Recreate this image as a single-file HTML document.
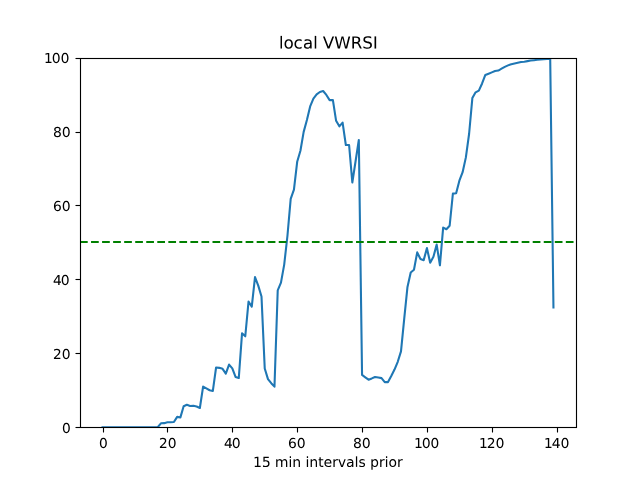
<!DOCTYPE html>
<html><head><meta charset="utf-8"><style>
html,body{margin:0;padding:0;background:#fff;width:640px;height:480px;overflow:hidden;font-family:"Liberation Sans",sans-serif}
svg{display:block}
</style></head><body>
<svg width="640" height="480" viewBox="0 0 640 480">
<rect width="640" height="480" fill="#fff"/>
<clipPath id="c"><rect x="80" y="58" width="496" height="369"/></clipPath>
<polyline clip-path="url(#c)" points="102.545,427.200 105.789,427.200 109.033,427.200 112.277,427.200 115.521,427.200 118.765,427.200 122.009,427.200 125.253,427.200 128.497,427.200 131.741,427.200 134.985,427.200 138.229,427.200 141.473,427.200 144.717,427.200 147.961,427.200 151.205,427.200 154.449,427.200 157.693,427.200 160.937,423.319 164.181,423.134 167.424,422.210 170.668,422.210 173.912,422.026 177.156,416.851 180.400,417.406 183.644,406.244 186.888,404.765 190.132,405.985 193.376,405.763 196.620,406.502 199.864,407.981 203.108,386.544 206.352,388.392 209.596,390.240 212.840,390.979 216.084,367.510 219.328,367.842 222.572,368.803 225.816,373.608 229.060,364.553 232.303,368.434 235.547,376.934 238.791,378.043 242.035,333.322 245.279,336.278 248.523,301.536 251.767,306.710 255.011,277.142 258.255,285.643 261.499,296.546 264.743,368.434 267.987,379.152 271.231,383.218 274.475,386.655 277.719,290.448 280.963,282.686 284.207,264.576 287.451,235.747 290.695,198.787 293.939,189.547 297.182,161.827 300.426,150.739 303.670,131.890 306.914,120.062 310.158,106.387 313.402,98.626 316.646,94.375 319.890,91.973 323.134,91.012 326.378,94.930 329.622,100.104 332.866,99.919 336.110,120.802 339.354,126.346 342.598,122.650 345.842,145.010 349.086,145.010 352.330,182.525 355.574,161.236 358.818,140.021 362.061,374.902 365.305,377.304 368.549,379.706 371.793,378.413 375.037,376.934 378.281,377.489 381.525,378.117 384.769,382.109 388.013,382.109 391.257,376.010 394.501,369.542 397.745,361.781 400.989,351.432 404.233,318.538 407.477,286.900 410.721,272.485 413.965,269.750 417.209,252.379 420.453,259.032 423.697,260.141 426.940,248.129 430.184,262.728 433.428,256.814 436.672,244.618 439.916,265.315 443.160,227.616 446.404,229.279 449.648,225.768 452.892,193.613 456.136,193.243 459.380,180.677 462.624,172.176 465.868,157.392 469.112,133.738 472.356,98.108 475.600,92.342 478.844,90.605 482.088,83.472 485.332,74.971 488.576,73.678 491.819,72.384 495.063,71.090 498.307,70.536 501.551,68.688 504.795,66.840 508.039,65.362 511.283,64.253 514.527,63.514 517.771,62.774 521.015,62.035 524.259,61.666 527.503,61.111 530.747,60.557 533.991,60.187 537.235,59.818 540.479,59.448 543.723,59.263 546.967,59.078 550.211,59.078 553.455,307.450" fill="none" stroke="#1f77b4" stroke-width="2.0833" stroke-linejoin="round" stroke-linecap="square"/>
<line clip-path="url(#c)" x1="80" y1="242.00" x2="576" y2="242.00" stroke="#008000" stroke-width="2.0833" stroke-dasharray="7.7083,3.3333"/>
<path d="M79.944,58.000H577.056V59.000H79.944ZM79.944,427.000H577.056V428.000H79.944ZM79.944,57.944H81.056V428.056H79.944ZM575.944,57.944H577.056V428.056H575.944ZM102.944,427.500H104.056V432.500H102.944ZM166.944,427.500H168.056V432.500H166.944ZM231.944,427.500H233.056V432.500H231.944ZM296.944,427.500H298.056V432.500H296.944ZM361.944,427.500H363.056V432.500H361.944ZM426.944,427.500H428.056V432.500H426.944ZM491.944,427.500H493.056V432.500H491.944ZM556.944,427.500H558.056V432.500H556.944ZM75.500,427.000H80.500V428.000H75.500ZM75.500,353.000H80.500V354.000H75.500ZM75.500,279.000H80.500V280.000H75.500ZM75.500,205.000H80.500V206.000H75.500ZM75.500,132.000H80.500V133.000H75.500ZM75.500,58.000H80.500V59.000H75.500Z" fill="#000"/>
<path d="M79.944,57.000H577.056V58.000H79.944ZM79.944,59.000H577.056V60.000H79.944ZM79.944,426.000H577.056V427.000H79.944ZM79.944,428.000H577.056V429.000H79.944ZM75.500,426.000H79.944V427.000H75.500ZM75.500,428.000H79.944V429.000H75.500ZM75.500,352.000H79.944V353.000H75.500ZM75.500,354.000H79.944V355.000H75.500ZM75.500,278.000H79.944V279.000H75.500ZM75.500,280.000H79.944V281.000H75.500ZM75.500,204.000H79.944V205.000H75.500ZM75.500,206.000H79.944V207.000H75.500ZM75.500,131.000H79.944V132.000H75.500ZM75.500,133.000H79.944V134.000H75.500ZM75.500,57.000H79.944V58.000H75.500ZM75.500,59.000H79.944V60.000H75.500Z" fill="#000" fill-opacity="0.0556" shape-rendering="crispEdges"/>
<g transform="scale(1.388889)" fill="#000">
<g transform="translate(0.5868 322.5600) scale(1 0.98700) translate(0 -322.1824)"><g id="text_1">
<g transform="translate(70.651477 322.182437) scale(0.1 -0.1)">
<defs>
<path id="DejaVuSans-30" d="M 2034 4250 
Q 1547 4250 1301 3770 
Q 1056 3291 1056 2328 
Q 1056 1369 1301 889 
Q 1547 409 2034 409 
Q 2525 409 2770 889 
Q 3016 1369 3016 2328 
Q 3016 3291 2770 3770 
Q 2525 4250 2034 4250 
z
M 2034 4750 
Q 2819 4750 3233 4129 
Q 3647 3509 3647 2328 
Q 3647 1150 3233 529 
Q 2819 -91 2034 -91 
Q 1250 -91 836 529 
Q 422 1150 422 2328 
Q 422 3509 836 4129 
Q 1250 4750 2034 4750 
z
" transform="scale(0.015625)"/>
</defs>
<use href="#DejaVuSans-30" transform="translate(0.0000 0)"/>
</g>
</g></g>
<g transform="translate(0.2230 322.5600) scale(1 0.98700) translate(0 -322.1824)"><g id="text_2">
<g transform="translate(114.183112 322.182437) scale(0.1 -0.1)">
<defs>
<path id="DejaVuSans-32" d="M 1228 531 
L 3431 531 
L 3431 0 
L 469 0 
L 469 531 
Q 828 903 1448 1529 
Q 2069 2156 2228 2338 
Q 2531 2678 2651 2914 
Q 2772 3150 2772 3378 
Q 2772 3750 2511 3984 
Q 2250 4219 1831 4219 
Q 1534 4219 1204 4116 
Q 875 4013 500 3803 
L 500 4441 
Q 881 4594 1212 4672 
Q 1544 4750 1819 4750 
Q 2544 4750 2975 4387 
Q 3406 4025 3406 3419 
Q 3406 3131 3298 2873 
Q 3191 2616 2906 2266 
Q 2828 2175 2409 1742 
Q 1991 1309 1228 531 
z
" transform="scale(0.015625)"/>
</defs>
<use href="#DejaVuSans-32" transform="translate(0.0000 0)"/>
<use href="#DejaVuSans-30" transform="translate(63.6230 0)"/>
</g>
</g></g>
<g transform="translate(-0.3739 322.5600) scale(1 0.98700) translate(0 -322.1824)"><g id="text_3">
<g transform="translate(160.895996 322.182437) scale(0.1 -0.1)">
<defs>
<path id="DejaVuSans-34" d="M 2419 4116 
L 825 1625 
L 2419 1625 
L 2419 4116 
z
M 2253 4666 
L 3047 4666 
L 3047 1625 
L 3713 1625 
L 3713 1100 
L 3047 1100 
L 3047 0 
L 2419 0 
L 2419 1100 
L 313 1100 
L 313 1709 
L 2253 4666 
z
" transform="scale(0.015625)"/>
</defs>
<use href="#DejaVuSans-34" transform="translate(7.2000 0)"/>
<use href="#DejaVuSans-30" transform="translate(63.6230 0)"/>
</g>
</g></g>
<g transform="translate(-0.2765 322.5600) scale(1 0.98700) translate(0 -322.1824)"><g id="text_4">
<g transform="translate(207.60888 322.182437) scale(0.1 -0.1)">
<defs>
<path id="DejaVuSans-36" d="M 2113 2584 
Q 1688 2584 1439 2293 
Q 1191 2003 1191 1497 
Q 1191 994 1439 701 
Q 1688 409 2113 409 
Q 2538 409 2786 701 
Q 3034 994 3034 1497 
Q 3034 2003 2786 2293 
Q 2538 2584 2113 2584 
z
M 3366 4563 
L 3366 3988 
Q 3128 4100 2886 4159 
Q 2644 4219 2406 4219 
Q 1781 4219 1451 3797 
Q 1122 3375 1075 2522 
Q 1259 2794 1537 2939 
Q 1816 3084 2150 3084 
Q 2853 3084 3261 2657 
Q 3669 2231 3669 1497 
Q 3669 778 3244 343 
Q 2819 -91 2113 -91 
Q 1303 -91 875 529 
Q 447 1150 447 2328 
Q 447 3434 972 4092 
Q 1497 4750 2381 4750 
Q 2619 4750 2861 4703 
Q 3103 4656 3366 4563 
z
" transform="scale(0.015625)"/>
</defs>
<use href="#DejaVuSans-36" transform="translate(0.0000 0)"/>
<use href="#DejaVuSans-30" transform="translate(63.6230 0)"/>
</g>
</g></g>
<g transform="translate(-0.1539 322.5600) scale(1 0.98700) translate(0 -322.1824)"><g id="text_5">
<g transform="translate(254.321764 322.182437) scale(0.1 -0.1)">
<defs>
<path id="DejaVuSans-38" d="M 2034 2216 
Q 1584 2216 1326 1975 
Q 1069 1734 1069 1313 
Q 1069 891 1326 650 
Q 1584 409 2034 409 
Q 2484 409 2743 651 
Q 3003 894 3003 1313 
Q 3003 1734 2745 1975 
Q 2488 2216 2034 2216 
z
M 1403 2484 
Q 997 2584 770 2862 
Q 544 3141 544 3541 
Q 544 4100 942 4425 
Q 1341 4750 2034 4750 
Q 2731 4750 3128 4425 
Q 3525 4100 3525 3541 
Q 3525 3141 3298 2862 
Q 3072 2584 2669 2484 
Q 3125 2378 3379 2068 
Q 3634 1759 3634 1313 
Q 3634 634 3220 271 
Q 2806 -91 2034 -91 
Q 1263 -91 848 271 
Q 434 634 434 1313 
Q 434 1759 690 2068 
Q 947 2378 1403 2484 
z
M 1172 3481 
Q 1172 3119 1398 2916 
Q 1625 2713 2034 2713 
Q 2441 2713 2670 2916 
Q 2900 3119 2900 3481 
Q 2900 3844 2670 4047 
Q 2441 4250 2034 4250 
Q 1625 4250 1398 4047 
Q 1172 3844 1172 3481 
z
" transform="scale(0.015625)"/>
</defs>
<use href="#DejaVuSans-38" transform="translate(0.0000 0)"/>
<use href="#DejaVuSans-30" transform="translate(63.6230 0)"/>
</g>
</g></g>
<g transform="translate(-0.4865 322.5600) scale(1 0.98700) translate(0 -322.1824)"><g id="text_6">
<g transform="translate(297.853398 322.182437) scale(0.1 -0.1)">
<defs>
<path id="DejaVuSans-31" d="M 794 531 
L 1825 531 
L 1825 4091 
L 703 3866 
L 703 4441 
L 1819 4666 
L 2450 4666 
L 2450 531 
L 3481 531 
L 3481 0 
L 794 0 
L 794 531 
z
" transform="scale(0.015625)"/>
</defs>
<use href="#DejaVuSans-31" transform="translate(7.2000 0)"/>
<use href="#DejaVuSans-30" transform="translate(63.6230 0)"/>
<use href="#DejaVuSans-30" transform="translate(125.4461 0)"/>
</g>
</g></g>
<g transform="translate(-0.4536 322.5600) scale(1 0.98700) translate(0 -322.1824)"><g id="text_7">
<g transform="translate(344.566283 322.182437) scale(0.1 -0.1)">
<use href="#DejaVuSans-31" transform="translate(7.2000 0)"/>
<use href="#DejaVuSans-32" transform="translate(63.6230 0)"/>
<use href="#DejaVuSans-30" transform="translate(127.2461 0)"/>
</g>
</g></g>
<g transform="translate(-0.3883 322.5600) scale(1 0.98700) translate(0 -322.1824)"><g id="text_8">
<g transform="translate(391.279167 322.182437) scale(0.1 -0.1)">
<use href="#DejaVuSans-31" transform="translate(7.2000 0)"/>
<use href="#DejaVuSans-34" transform="translate(63.6230 0)"/>
<use href="#DejaVuSans-30" transform="translate(127.2461 0)"/>
</g>
</g></g>
<g transform="translate(-0.1650 0.2968)"><g id="text_9">
<g transform="translate(182.201406 335.860562) scale(0.1 -0.1)">
<defs>
<path id="DejaVuSans-35" d="M 691 4666 
L 3169 4666 
L 3169 4134 
L 1269 4134 
L 1269 2991 
Q 1406 3038 1543 3061 
Q 1681 3084 1819 3084 
Q 2600 3084 3056 2656 
Q 3513 2228 3513 1497 
Q 3513 744 3044 326 
Q 2575 -91 1722 -91 
Q 1428 -91 1123 -41 
Q 819 9 494 109 
L 494 744 
Q 775 591 1075 516 
Q 1375 441 1709 441 
Q 2250 441 2565 725 
Q 2881 1009 2881 1497 
Q 2881 1984 2565 2268 
Q 2250 2553 1709 2553 
Q 1456 2553 1204 2497 
Q 953 2441 691 2322 
L 691 4666 
z
" transform="scale(0.015625)"/>
<path id="DejaVuSans-20" transform="scale(0.015625)"/>
<path id="DejaVuSans-6d" d="M 3328 2828 
Q 3544 3216 3844 3400 
Q 4144 3584 4550 3584 
Q 5097 3584 5394 3201 
Q 5691 2819 5691 2113 
L 5691 0 
L 5113 0 
L 5113 2094 
Q 5113 2597 4934 2840 
Q 4756 3084 4391 3084 
Q 3944 3084 3684 2787 
Q 3425 2491 3425 1978 
L 3425 0 
L 2847 0 
L 2847 2094 
Q 2847 2600 2669 2842 
Q 2491 3084 2119 3084 
Q 1678 3084 1418 2786 
Q 1159 2488 1159 1978 
L 1159 0 
L 581 0 
L 581 3500 
L 1159 3500 
L 1159 2956 
Q 1356 3278 1631 3431 
Q 1906 3584 2284 3584 
Q 2666 3584 2933 3390 
Q 3200 3197 3328 2828 
z
" transform="scale(0.015625)"/>
<path id="DejaVuSans-69" d="M 603 3500 
L 1178 3500 
L 1178 0 
L 603 0 
L 603 3500 
z
M 603 4863 
L 1178 4863 
L 1178 4134 
L 603 4134 
L 603 4863 
z
" transform="scale(0.015625)"/>
<path id="DejaVuSans-6e" d="M 3513 2113 
L 3513 0 
L 2938 0 
L 2938 2094 
Q 2938 2591 2744 2837 
Q 2550 3084 2163 3084 
Q 1697 3084 1428 2787 
Q 1159 2491 1159 1978 
L 1159 0 
L 581 0 
L 581 3500 
L 1159 3500 
L 1159 2956 
Q 1366 3272 1645 3428 
Q 1925 3584 2291 3584 
Q 2894 3584 3203 3211 
Q 3513 2838 3513 2113 
z
" transform="scale(0.015625)"/>
<path id="DejaVuSans-74" d="M 1172 4494 
L 1172 3500 
L 2356 3500 
L 2356 3053 
L 1172 3053 
L 1172 1153 
Q 1172 725 1289 603 
Q 1406 481 1766 481 
L 2356 481 
L 2356 0 
L 1766 0 
Q 1100 0 847 248 
Q 594 497 594 1153 
L 594 3053 
L 172 3053 
L 172 3500 
L 594 3500 
L 594 4494 
L 1172 4494 
z
" transform="scale(0.015625)"/>
<path id="DejaVuSans-65" d="M 3597 1894 
L 3597 1613 
L 953 1613 
Q 991 1019 1311 708 
Q 1631 397 2203 397 
Q 2534 397 2845 478 
Q 3156 559 3463 722 
L 3463 178 
Q 3153 47 2828 -22 
Q 2503 -91 2169 -91 
Q 1331 -91 842 396 
Q 353 884 353 1716 
Q 353 2575 817 3079 
Q 1281 3584 2069 3584 
Q 2775 3584 3186 3129 
Q 3597 2675 3597 1894 
z
M 3022 2063 
Q 3016 2534 2758 2815 
Q 2500 3097 2075 3097 
Q 1594 3097 1305 2825 
Q 1016 2553 972 2059 
L 3022 2063 
z
" transform="scale(0.015625)"/>
<path id="DejaVuSans-72" d="M 2631 2963 
Q 2534 3019 2420 3045 
Q 2306 3072 2169 3072 
Q 1681 3072 1420 2755 
Q 1159 2438 1159 1844 
L 1159 0 
L 581 0 
L 581 3500 
L 1159 3500 
L 1159 2956 
Q 1341 3275 1631 3429 
Q 1922 3584 2338 3584 
Q 2397 3584 2469 3576 
Q 2541 3569 2628 3553 
L 2631 2963 
z
" transform="scale(0.015625)"/>
<path id="DejaVuSans-76" d="M 191 3500 
L 800 3500 
L 1894 563 
L 2988 3500 
L 3597 3500 
L 2284 0 
L 1503 0 
L 191 3500 
z
" transform="scale(0.015625)"/>
<path id="DejaVuSans-61" d="M 2194 1759 
Q 1497 1759 1228 1600 
Q 959 1441 959 1056 
Q 959 750 1161 570 
Q 1363 391 1709 391 
Q 2188 391 2477 730 
Q 2766 1069 2766 1631 
L 2766 1759 
L 2194 1759 
z
M 3341 1997 
L 3341 0 
L 2766 0 
L 2766 531 
Q 2569 213 2275 61 
Q 1981 -91 1556 -91 
Q 1019 -91 701 211 
Q 384 513 384 1019 
Q 384 1609 779 1909 
Q 1175 2209 1959 2209 
L 2766 2209 
L 2766 2266 
Q 2766 2663 2505 2880 
Q 2244 3097 1772 3097 
Q 1472 3097 1187 3025 
Q 903 2953 641 2809 
L 641 3341 
Q 956 3463 1253 3523 
Q 1550 3584 1831 3584 
Q 2591 3584 2966 3190 
Q 3341 2797 3341 1997 
z
" transform="scale(0.015625)"/>
<path id="DejaVuSans-6c" d="M 603 4863 
L 1178 4863 
L 1178 0 
L 603 0 
L 603 4863 
z
" transform="scale(0.015625)"/>
<path id="DejaVuSans-73" d="M 2834 3397 
L 2834 2853 
Q 2591 2978 2328 3040 
Q 2066 3103 1784 3103 
Q 1356 3103 1142 2972 
Q 928 2841 928 2578 
Q 928 2378 1081 2264 
Q 1234 2150 1697 2047 
L 1894 2003 
Q 2506 1872 2764 1633 
Q 3022 1394 3022 966 
Q 3022 478 2636 193 
Q 2250 -91 1575 -91 
Q 1294 -91 989 -36 
Q 684 19 347 128 
L 347 722 
Q 666 556 975 473 
Q 1284 391 1588 391 
Q 1994 391 2212 530 
Q 2431 669 2431 922 
Q 2431 1156 2273 1281 
Q 2116 1406 1581 1522 
L 1381 1569 
Q 847 1681 609 1914 
Q 372 2147 372 2553 
Q 372 3047 722 3315 
Q 1072 3584 1716 3584 
Q 2034 3584 2315 3537 
Q 2597 3491 2834 3397 
z
" transform="scale(0.015625)"/>
<path id="DejaVuSans-70" d="M 1159 525 
L 1159 -1331 
L 581 -1331 
L 581 3500 
L 1159 3500 
L 1159 2969 
Q 1341 3281 1617 3432 
Q 1894 3584 2278 3584 
Q 2916 3584 3314 3078 
Q 3713 2572 3713 1747 
Q 3713 922 3314 415 
Q 2916 -91 2278 -91 
Q 1894 -91 1617 61 
Q 1341 213 1159 525 
z
M 3116 1747 
Q 3116 2381 2855 2742 
Q 2594 3103 2138 3103 
Q 1681 3103 1420 2742 
Q 1159 2381 1159 1747 
Q 1159 1113 1420 752 
Q 1681 391 2138 391 
Q 2594 391 2855 752 
Q 3116 1113 3116 1747 
z
" transform="scale(0.015625)"/>
<path id="DejaVuSans-6f" d="M 1959 3097 
Q 1497 3097 1228 2736 
Q 959 2375 959 1747 
Q 959 1119 1226 758 
Q 1494 397 1959 397 
Q 2419 397 2687 759 
Q 2956 1122 2956 1747 
Q 2956 2369 2687 2733 
Q 2419 3097 1959 3097 
z
M 1959 3584 
Q 2709 3584 3137 3096 
Q 3566 2609 3566 1747 
Q 3566 888 3137 398 
Q 2709 -91 1959 -91 
Q 1206 -91 779 398 
Q 353 888 353 1747 
Q 353 2609 779 3096 
Q 1206 3584 1959 3584 
z
" transform="scale(0.015625)"/>
</defs>
<use href="#DejaVuSans-31" transform="translate(1.8000 0)"/>
<use href="#DejaVuSans-35" transform="translate(65.4230 0)"/>
<use href="#DejaVuSans-20" transform="translate(127.2461 0)"/>
<use href="#DejaVuSans-6d" transform="translate(159.0332 0)"/>
<use href="#DejaVuSans-69" transform="translate(256.4453 0)"/>
<use href="#DejaVuSans-6e" transform="translate(284.2285 0)"/>
<use href="#DejaVuSans-20" transform="translate(347.6074 0)"/>
<use href="#DejaVuSans-69" transform="translate(379.3945 0)"/>
<use href="#DejaVuSans-6e" transform="translate(407.1777 0)"/>
<use href="#DejaVuSans-74" transform="translate(470.5566 0)"/>
<use href="#DejaVuSans-65" transform="translate(509.7656 0)"/>
<use href="#DejaVuSans-72" transform="translate(571.2891 0)"/>
<use href="#DejaVuSans-76" transform="translate(612.4023 0)"/>
<use href="#DejaVuSans-61" transform="translate(671.5820 0)"/>
<use href="#DejaVuSans-6c" transform="translate(732.8613 0)"/>
<use href="#DejaVuSans-73" transform="translate(760.6445 0)"/>
<use href="#DejaVuSans-20" transform="translate(812.7441 0)"/>
<use href="#DejaVuSans-70" transform="translate(844.5312 0)"/>
<use href="#DejaVuSans-72" transform="translate(908.0078 0)"/>
<use href="#DejaVuSans-69" transform="translate(949.1211 0)"/>
<use href="#DejaVuSans-6f" transform="translate(976.9043 0)"/>
<use href="#DejaVuSans-72" transform="translate(1038.0859 0)"/>
</g>
</g></g>
<g transform="translate(0.3612 311.7600) scale(1 0.98700) translate(0 -311.3832)"><g id="text_10">
<g transform="translate(44.2375 311.383219) scale(0.1 -0.1)">
<use href="#DejaVuSans-30" transform="translate(0.0000 0)"/>
</g>
</g></g>
<g transform="translate(0.2226 258.4800) scale(1 0.98700) translate(0 -258.1608)"><g id="text_11">
<g transform="translate(37.875 258.160819) scale(0.1 -0.1)">
<use href="#DejaVuSans-32" transform="translate(0.0000 0)"/>
<use href="#DejaVuSans-30" transform="translate(63.6230 0)"/>
</g>
</g></g>
<g transform="translate(-0.4758 205.2000) scale(1 0.98700) translate(0 -204.9384)"><g id="text_12">
<g transform="translate(37.875 204.938419) scale(0.1 -0.1)">
<use href="#DejaVuSans-34" transform="translate(7.2000 0)"/>
<use href="#DejaVuSans-30" transform="translate(63.6230 0)"/>
</g>
</g></g>
<g transform="translate(0.2509 151.9200) scale(1 0.98700) translate(0 -151.7160)"><g id="text_13">
<g transform="translate(37.875 151.716019) scale(0.1 -0.1)">
<use href="#DejaVuSans-36" transform="translate(0.0000 0)"/>
<use href="#DejaVuSans-30" transform="translate(63.6230 0)"/>
</g>
</g></g>
<g transform="translate(0.2901 98.6400) scale(1 0.98700) translate(0 -98.4936)"><g id="text_14">
<g transform="translate(37.875 98.493619) scale(0.1 -0.1)">
<use href="#DejaVuSans-38" transform="translate(0.0000 0)"/>
<use href="#DejaVuSans-30" transform="translate(63.6230 0)"/>
</g>
</g></g>
<g transform="translate(-0.5959 45.3600) scale(1 0.98700) translate(0 -45.2712)"><g id="text_15">
<g transform="translate(31.5125 45.271219) scale(0.1 -0.1)">
<use href="#DejaVuSans-31" transform="translate(7.2000 0)"/>
<use href="#DejaVuSans-30" transform="translate(63.6230 0)"/>
<use href="#DejaVuSans-30" transform="translate(127.2461 0)"/>
</g>
</g></g>
<g transform="translate(0.1809 -0.5208)"><g id="text_16">
<g transform="translate(200.487188 35.472) scale(0.12 -0.12)">
<defs>
<path id="DejaVuSans-63" d="M 3122 3366 
L 3122 2828 
Q 2878 2963 2633 3030 
Q 2388 3097 2138 3097 
Q 1578 3097 1268 2742 
Q 959 2388 959 1747 
Q 959 1106 1268 751 
Q 1578 397 2138 397 
Q 2388 397 2633 464 
Q 2878 531 3122 666 
L 3122 134 
Q 2881 22 2623 -34 
Q 2366 -91 2075 -91 
Q 1284 -91 818 406 
Q 353 903 353 1747 
Q 353 2603 823 3093 
Q 1294 3584 2113 3584 
Q 2378 3584 2631 3529 
Q 2884 3475 3122 3366 
z
" transform="scale(0.015625)"/>
<path id="DejaVuSans-56" d="M 1831 0 
L 50 4666 
L 709 4666 
L 2188 738 
L 3669 4666 
L 4325 4666 
L 2547 0 
L 1831 0 
z
" transform="scale(0.015625)"/>
<path id="DejaVuSans-57" d="M 213 4666 
L 850 4666 
L 1831 722 
L 2809 4666 
L 3519 4666 
L 4500 722 
L 5478 4666 
L 6119 4666 
L 4947 0 
L 4153 0 
L 3169 4050 
L 2175 0 
L 1381 0 
L 213 4666 
z
" transform="scale(0.015625)"/>
<path id="DejaVuSans-52" d="M 2841 2188 
Q 3044 2119 3236 1894 
Q 3428 1669 3622 1275 
L 4263 0 
L 3584 0 
L 2988 1197 
Q 2756 1666 2539 1819 
Q 2322 1972 1947 1972 
L 1259 1972 
L 1259 0 
L 628 0 
L 628 4666 
L 2053 4666 
Q 2853 4666 3247 4331 
Q 3641 3997 3641 3322 
Q 3641 2881 3436 2590 
Q 3231 2300 2841 2188 
z
M 1259 4147 
L 1259 2491 
L 2053 2491 
Q 2509 2491 2742 2702 
Q 2975 2913 2975 3322 
Q 2975 3731 2742 3939 
Q 2509 4147 2053 4147 
L 1259 4147 
z
" transform="scale(0.015625)"/>
<path id="DejaVuSans-53" d="M 3425 4513 
L 3425 3897 
Q 3066 4069 2747 4153 
Q 2428 4238 2131 4238 
Q 1616 4238 1336 4038 
Q 1056 3838 1056 3469 
Q 1056 3159 1242 3001 
Q 1428 2844 1947 2747 
L 2328 2669 
Q 3034 2534 3370 2195 
Q 3706 1856 3706 1288 
Q 3706 609 3251 259 
Q 2797 -91 1919 -91 
Q 1588 -91 1214 -16 
Q 841 59 441 206 
L 441 856 
Q 825 641 1194 531 
Q 1563 422 1919 422 
Q 2459 422 2753 634 
Q 3047 847 3047 1241 
Q 3047 1584 2836 1778 
Q 2625 1972 2144 2069 
L 1759 2144 
Q 1053 2284 737 2584 
Q 422 2884 422 3419 
Q 422 4038 858 4394 
Q 1294 4750 2059 4750 
Q 2388 4750 2728 4690 
Q 3069 4631 3425 4513 
z
" transform="scale(0.015625)"/>
<path id="DejaVuSans-49" d="M 628 4666 
L 1259 4666 
L 1259 0 
L 628 0 
L 628 4666 
z
" transform="scale(0.015625)"/>
</defs>
<use href="#DejaVuSans-6c" transform="translate(1.5000 0)"/>
<use href="#DejaVuSans-6f" transform="translate(29.2832 0)"/>
<use href="#DejaVuSans-63" transform="translate(88.9648 0)"/>
<use href="#DejaVuSans-61" transform="translate(145.4453 0)"/>
<use href="#DejaVuSans-6c" transform="translate(206.7246 0)"/>
<use href="#DejaVuSans-20" transform="translate(233.0078 0)"/>
<use href="#DejaVuSans-56" transform="translate(264.7949 0)"/>
<use href="#DejaVuSans-57" transform="translate(333.2031 0)"/>
<use href="#DejaVuSans-52" transform="translate(432.0801 0)"/>
<use href="#DejaVuSans-53" transform="translate(501.5625 0)"/>
<use href="#DejaVuSans-49" transform="translate(565.0391 0)"/>
</g>
</g></g>
</g>
</svg>
</body></html>
